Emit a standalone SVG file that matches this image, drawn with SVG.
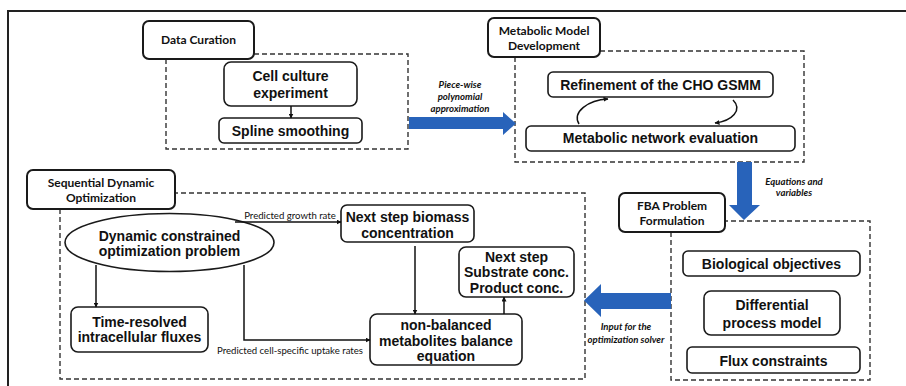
<svg xmlns="http://www.w3.org/2000/svg" width="906" height="386" viewBox="0 0 906 386">
<style>
.tab{fill:#fff;stroke:#1a1a1a;stroke-width:2}
.box{fill:#fff;stroke:#1a1a1a;stroke-width:1.6}
.dash{fill:none;stroke:#333;stroke-width:1.4;stroke-dasharray:5,3}
.t{font-family:"Liberation Sans",Arial,sans-serif;font-weight:bold;font-size:14px;fill:#111;text-anchor:middle}
.tb{font-family:Lato,"Open Sans",sans-serif;font-weight:bold;font-size:12px;fill:#111;text-anchor:middle}
.it{font-family:Lato,"Open Sans",sans-serif;font-weight:bold;font-style:italic;font-size:9.6px;fill:#111;text-anchor:middle}
.sm{font-family:Lato,"Open Sans",sans-serif;font-size:9.6px;fill:#111;text-anchor:middle}
.ln{fill:none;stroke:#111;stroke-width:1.5}
.blue{fill:#2863ba}
</style>
<defs>
<marker id="ah" viewBox="0 0 10 10" refX="9" refY="5" markerWidth="5" markerHeight="5" orient="auto" markerUnits="userSpaceOnUse">
<path d="M0,0 L10,5 L0,10 z" fill="#111"/>
</marker>
</defs>
<rect width="906" height="386" fill="#fff"/>
<path d="M8,386 V11 H906" fill="none" stroke="#222" stroke-width="2"/>

<g id="data-curation">
<path class="dash" d="M166,59 V149 H408 V54 H254"/>
<rect class="tab" x="143" y="21" width="111" height="38" rx="6"/>
<text class="tb" x="198.5" y="44">Data Curation</text>
</g>
<g id="cell-culture">
<rect class="box" x="224" y="62" width="133" height="44" rx="7"/>
<text class="t" x="290.5" y="81">Cell culture</text>
<text class="t" x="290.5" y="98">experiment</text>
</g>
<g id="spline">
<rect class="box" x="219" y="118" width="143" height="25" rx="5"/>
<text class="t" x="290.5" y="136">Spline smoothing</text>
</g>

<g id="metabolic-model">
<path class="dash" d="M515,57 V162 H804 V51 H600"/>
<rect class="tab" x="488" y="18" width="112" height="39" rx="6"/>
<text class="tb" x="544" y="35">Metabolic Model</text>
<text class="tb" x="544" y="50">Development</text>
</g>
<g id="refinement">
<rect class="box" x="548" y="72" width="225" height="25" rx="5"/>
<text class="t" x="660.5" y="90">Refinement of the CHO GSMM</text>
</g>
<g id="evaluation">
<rect class="box" x="526" y="126" width="269" height="25" rx="5"/>
<text class="t" x="660.5" y="143">Metabolic network evaluation</text>
</g>

<g id="fba">
<path class="dash" d="M671,232 V380 H870 V221 H725"/>
<rect class="tab" x="619" y="193" width="106" height="39" rx="6"/>
<text class="tb" x="672" y="210">FBA Problem</text>
<text class="tb" x="672" y="225">Formulation</text>
</g>
<g id="bio-obj">
<rect class="box" x="683" y="251" width="177" height="25" rx="5"/>
<text class="t" x="771.5" y="269">Biological objectives</text>
</g>
<g id="diff-model">
<rect class="box" x="704" y="291" width="136" height="44" rx="7"/>
<text class="t" x="772" y="310">Differential</text>
<text class="t" x="772" y="328">process model</text>
</g>
<g id="flux-constraints">
<rect class="box" x="687" y="347" width="173" height="26" rx="5"/>
<text class="t" x="773.5" y="366">Flux constraints</text>
</g>

<g id="sdo">
<path class="dash" d="M60,209 V379 H585 V193 H175"/>
<rect class="tab" x="27" y="170" width="148" height="39" rx="6"/>
<text class="tb" x="101" y="187">Sequential Dynamic</text>
<text class="tb" x="101" y="202">Optimization</text>
</g>
<g id="dcop">
<ellipse cx="169.5" cy="242.5" rx="104.5" ry="29" fill="#fff" stroke="#1a1a1a" stroke-width="1.6"/>
<text class="t" x="169.5" y="241">Dynamic constrained</text>
<text class="t" x="169.5" y="256">optimization problem</text>
</g>
<g id="biomass">
<rect class="box" x="341" y="205" width="133" height="37" rx="6"/>
<text class="t" x="407.5" y="222">Next step biomass</text>
<text class="t" x="407.5" y="238">concentration</text>
</g>
<g id="substrate">
<rect class="box" x="459" y="247" width="115" height="50" rx="7"/>
<text class="t" x="516.5" y="262">Next step</text>
<text class="t" x="516.5" y="277">Substrate conc.</text>
<text class="t" x="516.5" y="293">Product conc.</text>
</g>
<g id="nonbalanced">
<rect class="box" x="370" y="314" width="152" height="51" rx="7"/>
<text class="t" x="446" y="330">non-balanced</text>
<text class="t" x="446" y="346">metabolites balance</text>
<text class="t" x="446" y="361">equation</text>
</g>
<g id="time-resolved">
<rect class="box" x="71" y="307" width="137" height="45" rx="7"/>
<text class="t" x="139.5" y="327">Time-resolved</text>
<text class="t" x="139.5" y="342">intracellular fluxes</text>
</g>

<g id="connectors">
<line class="ln" x1="291" y1="106" x2="291" y2="118" marker-end="url(#ah)"/>
<path class="ln" d="M579,124 C572,112 588,100 608,99" marker-end="url(#ah)"/>
<path class="ln" d="M733,100 C743,110 732,121 715,123" marker-end="url(#ah)"/>
<line class="ln" x1="235" y1="222" x2="341" y2="222" marker-end="url(#ah)"/>
<line class="ln" x1="415" y1="246" x2="415" y2="314" marker-end="url(#ah)"/>
<line class="ln" x1="504" y1="314" x2="504" y2="297" marker-end="url(#ah)"/>
<line class="ln" x1="96" y1="265" x2="96" y2="307" marker-end="url(#ah)"/>
<path class="ln" d="M244,265 V340 H370" marker-end="url(#ah)"/>
<path class="blue" d="M409,117 H503 V112 L516,123.5 L503,135 V129 H409 Z"/>
<path class="blue" d="M737,162 H752 V205 H760 L744,220 L729,205 H737 Z"/>
<path class="blue" d="M671,293 H601 V284 L584,300.5 L601,317 V309 H671 Z"/>
<text class="it" x="460" y="88">Piece-wise</text>
<text class="it" x="460" y="100">polynomial</text>
<text class="it" x="460" y="112">approximation</text>
<text class="it" x="794" y="185">Equations and</text>
<text class="it" x="794" y="196">variables</text>
<text class="it" x="626" y="330">Input for the</text>
<text class="it" x="626" y="343">optimization solver</text>
<text class="sm" x="290" y="219">Predicted growth rate</text>
<text class="sm" x="290" y="354">Predicted cell-specific uptake rates</text>
</g>
</svg>
